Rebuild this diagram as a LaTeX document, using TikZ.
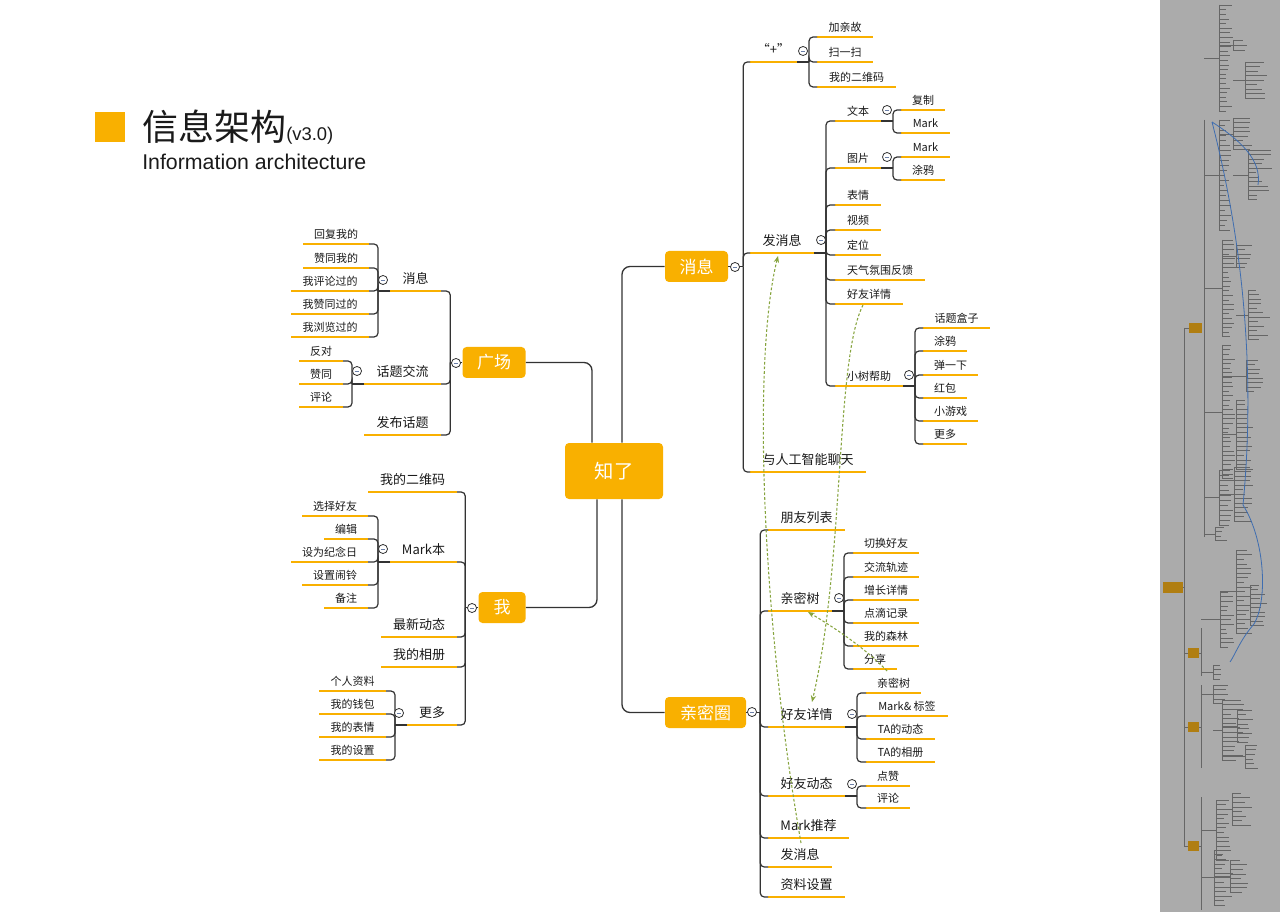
\documentclass[tikz,border=0pt]{standalone}
\usepackage{fontspec}
\setmainfont{Noto Sans CJK SC}
\newfontfamily\latinf{Liberation Sans}
\usetikzlibrary{calc,arrows.meta}
\definecolor{org}{HTML}{F9B000}
\definecolor{ink}{HTML}{1A1A1A}
\definecolor{lnc}{HTML}{333333}
\definecolor{grn}{HTML}{86A43E}
\definecolor{mmbg}{HTML}{ABABAB}
\definecolor{mmln}{HTML}{666666}
\definecolor{mmbox}{HTML}{B07E12}
\definecolor{mmblu}{HTML}{3E6DB0}
\definecolor{minus}{HTML}{6B7FA8}
\tikzset{
  x=0.75pt, y=-0.75pt,
  uline/.style={draw=org, line width=1.6pt},
  link/.style={draw=lnc, line width=0.9pt, rounded corners=3pt},
  rootlink/.style={draw=lnc, line width=1pt, rounded corners=6pt},
  t2/.style={inner sep=0pt, text=ink, yshift=9pt, font=\fontsize{9.75}{10}\selectfont, text height=0.86em, text depth=0.14em},
  t3/.style={inner sep=0pt, text=ink, yshift=7.9pt, font=\fontsize{8.25}{9}\selectfont, text height=0.86em, text depth=0.14em},
  topbox/.style={fill=org, rounded corners=3pt, text=white, inner sep=0pt, minimum height=23.25pt, font=\fontsize{12.75}{13}\selectfont},
  colb/.style={circle, draw=lnc, line width=0.6pt, fill=white, minimum size=6.8pt, inner sep=0pt,
     path picture={\draw[minus, line width=0.6pt] ([xshift=-1.6pt]path picture bounding box.center) -- ([xshift=1.6pt]path picture bounding box.center);}},
  garr/.style={draw=grn, line width=0.8pt, dash pattern=on 2pt off 1.5pt, -{Stealth[length=5pt,width=4pt]}},
  mmline/.style={draw=mmln, line width=0.3pt},
  mmb/.style={draw=mmblu, line width=0.6pt}
}
\newcommand\lf[6]{%
  \coordinate (#1-l) at (#2,#4);
  \coordinate (#1-r) at (#3,#4);
  \draw[uline] (#1-l) -- (#1-r);
  \node[#5] (#1) at ({(#2+#3)/2},#4) {#6};}
\newcommand\rbr[2]{\draw[link] (#1-r) -- ++(12,0) coordinate (#1-j);
  \foreach \ch in {#2}{\draw[link] (#1-j) |- (\ch-l);}}
\newcommand\lbr[2]{\draw[link] (#1-l) -- ++(-12,0) coordinate (#1-j);
  \foreach \ch in {#2}{\draw[link] (#1-j) |- (\ch-r);}}
\newcommand\rbx[3]{\draw[link] (#1.east) -- ++(#2,0) coordinate (#1-j);
  \foreach \ch in {#3}{\draw[link] (#1-j) |- (\ch-l);}}
\newcommand\lbx[3]{\draw[link] (#1.west) -- ++(-#2,0) coordinate (#1-j);
  \foreach \ch in {#3}{\draw[link] (#1-j) |- (\ch-r);}}
\newcommand\mmg[7]{%
  \pgfmathsetmacro\mmyb{#3+(#5-1)*#4}%
  \pgfmathsetmacro\mmym{(#3+\mmyb)/2}%
  \draw[mmline] (#2,#3) -- (#2,\mmyb);
  \draw[mmline] (#1,\mmym) -- (#2,\mmym);
  \foreach \i in {1,...,#5}{\pgfmathsetmacro\yy{#3+(\i-1)*#4}\pgfmathsetmacro\ll{#6+rnd*(#7-#6)}\draw[mmline] (#2,\yy) -- ++(\ll,0);}}
\begin{document}
\begin{tikzpicture}
\useasboundingbox (0,0) rectangle (1280,912);
\fill[white] (0,0) rectangle (1280,912);

% ---------- title ----------
\node[fill=org, minimum size=22.5pt, inner sep=0pt] (sq) at (110,127) {};
\node[anchor=base west, inner sep=0pt, text=ink] (title) at (142,140.5)
  {{\fontsize{27}{28}\selectfont 信息架构}{\latinf\fontsize{13.8}{14}\selectfont (v3.0)}};
\node[anchor=base west, inner sep=0pt, text=ink, font=\latinf\fontsize{16}{17}\selectfont] (subtitle) at (142,170) {Information architecture};

% ---------- main boxes ----------
\node[topbox, minimum width=73.5pt, minimum height=42pt, font=\fontsize{14.5}{15}\selectfont] (root) at (614,471) {知了};
\node[topbox, minimum width=47.25pt] (msg) at (696.5,266.5) {消息};
\node[topbox, minimum width=47.25pt] (gc) at (494,362.5) {广场};
\node[topbox, minimum width=35.25pt] (me) at (502,607.5) {我};
\node[topbox, minimum width=60.75pt] (qm) at (705.5,712.5) {亲密圈};

\draw[rootlink] ([xshift=6pt]root.north) |- (msg.west);
\draw[rootlink] ([xshift=-16.5pt]root.north) |- (gc.east);
\draw[rootlink] ([xshift=-12.75pt]root.south) |- (me.east);
\draw[rootlink] ([xshift=6pt]root.south) |- (qm.west);

% ---------- 消息 branch ----------
\lf{plus}{750}{797}{62}{t2}{“+”}
\lf{fx}{750}{814}{253}{t2}{发消息}
\lf{ai}{750}{866}{472}{t2}{与人工智能聊天}
\lf{jqg}{817}{873}{37}{t3}{加亲故}
\lf{sys}{817}{873}{62}{t3}{扫一扫}
\lf{ewm}{817}{896}{87}{t3}{我的二维码}
\lf{wb}{835}{881}{121}{t3}{文本}
\lf{tp}{835}{881}{168}{t3}{图片}
\lf{bq}{835}{881}{205}{t3}{表情}
\lf{sp}{835}{881}{230}{t3}{视频}
\lf{dw}{835}{881}{255}{t3}{定位}
\lf{tq}{835}{925}{280}{t3}{天气氛围反馈}
\lf{hx}{835}{903}{304}{t3}{好友详情}
\lf{xs}{835}{903}{386}{t3}{小树帮助}
\lf{fz}{901}{945}{110}{t3}{复制}
\lf{mka}{901}{950}{133}{t3}{Mark}
\lf{mkb}{901}{950}{157}{t3}{Mark}
\lf{tya}{901}{945}{180}{t3}{涂鸦}
\lf{htz}{923}{990}{328}{t3}{话题盒子}
\lf{tyb}{923}{967}{351}{t3}{涂鸦}
\lf{tyx}{923}{978}{375}{t3}{弹一下}
\lf{hb}{923}{967}{398}{t3}{红包}
\lf{xyx}{923}{978}{421}{t3}{小游戏}
\lf{gda}{923}{967}{444}{t3}{更多}

\rbx{msg}{15}{plus,fx,ai}
\rbr{plus}{jqg,sys,ewm}
\rbr{fx}{wb,tp,bq,sp,dw,tq,hx,xs}
\rbr{wb}{fz,mka}
\rbr{tp}{mkb,tya}
\rbr{xs}{htz,tyb,tyx,hb,xyx,gda}

% ---------- 亲密圈 branch ----------
\lf{pylb}{768}{845}{530}{t2}{朋友列表}
\lf{qms}{768}{832}{611}{t2}{亲密树}
\lf{hyxq}{768}{845}{727}{t2}{好友详情}
\lf{hydt}{768}{845}{796}{t2}{好友动态}
\lf{mktj}{768}{849}{838}{t2}{Mark推荐}
\lf{qfx}{768}{832}{867}{t2}{发消息}
\lf{zlsz}{768}{845}{897}{t2}{资料设置}
\lf{qhhy}{853}{919}{553}{t3}{切换好友}
\lf{jlgj}{853}{919}{577}{t3}{交流轨迹}
\lf{zzxq}{853}{919}{600}{t3}{增长详情}
\lf{ddjl}{853}{919}{623}{t3}{点滴记录}
\lf{wdsl}{853}{919}{646}{t3}{我的森林}
\lf{fxb}{853}{897}{669}{t3}{分享}
\lf{qmsb}{866}{921}{693}{t3}{亲密树}
\lf{mkbq}{866}{948}{716}{t3}{Mark\& 标签}
\lf{tadt}{866}{935}{739}{t3}{TA的动态}
\lf{taxc}{866}{935}{762}{t3}{TA的相册}
\lf{dz}{866}{910}{786}{t3}{点赞}
\lf{plb}{866}{910}{808}{t3}{评论}

\rbx{qm}{14}{pylb,qms,hyxq,hydt,mktj,qfx,zlsz}
\rbr{qms}{qhhy,jlgj,zzxq,ddjl,wdsl,fxb}
\rbr{hyxq}{qmsb,mkbq,tadt,taxc}
\rbr{hydt}{dz,plb}

% ---------- 广场 branch ----------
\lf{gxx}{390}{441}{291}{t2}{消息}
\lf{htjl}{364}{441}{384}{t2}{话题交流}
\lf{fbht}{364}{441}{435}{t2}{发布话题}
\lf{hfwd}{303}{369}{244}{t3}{回复我的}
\lf{zywd}{303}{369}{268}{t3}{赞同我的}
\lf{wplgd}{291}{369}{291}{t3}{我评论过的}
\lf{wzygd}{291}{369}{314}{t3}{我赞同过的}
\lf{wllgd}{291}{369}{337}{t3}{我浏览过的}
\lf{fd}{299}{343}{361}{t3}{反对}
\lf{zt}{299}{343}{384}{t3}{赞同}
\lf{pla}{299}{343}{407}{t3}{评论}

\lbx{gc}{12}{gxx,htjl,fbht}
\lbr{gxx}{hfwd,zywd,wplgd,wzygd,wllgd}
\lbr{htjl}{fd,zt,pla}

% ---------- 我 branch ----------
\lf{mewm}{368}{457}{492}{t2}{我的二维码}
\lf{mkbn}{390}{457}{562}{t2}{Mark本}
\lf{zxdt}{381}{457}{637}{t2}{最新动态}
\lf{wdxc}{381}{457}{667}{t2}{我的相册}
\lf{gdb}{407}{457}{725}{t2}{更多}
\lf{xzhy}{302}{368}{516}{t3}{选择好友}
\lf{bj}{324}{368}{539}{t3}{编辑}
\lf{swjn}{291}{368}{562}{t3}{设为纪念日}
\lf{sznl}{302}{368}{585}{t3}{设置闹铃}
\lf{bz}{324}{368}{608}{t3}{备注}
\lf{grzl}{319}{386}{691}{t3}{个人资料}
\lf{wdqb}{319}{386}{714}{t3}{我的钱包}
\lf{wdbq}{319}{386}{737}{t3}{我的表情}
\lf{wdsz}{319}{386}{760}{t3}{我的设置}

\lbx{me}{13}{mewm,mkbn,zxdt,wdxc,gdb}
\lbr{mkbn}{xzhy,bj,swjn,sznl,bz}
\lbr{gdb}{grzl,wdqb,wdbq,wdsz}

% ---------- collapse circles ----------
\node[colb] (c1) at (735,267) {};
\node[colb] (c2) at (456,363) {};
\node[colb] (c3) at (472,608) {};
\node[colb] (c4) at (752,712) {};
\node[colb] (c5) at (803,51) {};
\node[colb] (c6) at (821,240) {};
\node[colb] (c7) at (887,110) {};
\node[colb] (c8) at (887,157) {};
\node[colb] (c9) at (909,375) {};
\node[colb] (c10) at (383,280) {};
\node[colb] (c11) at (357,371) {};
\node[colb] (c12) at (383,549) {};
\node[colb] (c13) at (399,713) {};
\node[colb] (c14) at (839,598) {};
\node[colb] (c15) at (852,714) {};
\node[colb] (c16) at (852,784) {};

% ---------- cross links ----------
\coordinate (g1s) at (801,843); \coordinate (g1e) at (778,256);
\coordinate (g2s) at (863,305); \coordinate (g2e) at (812,702);
\coordinate (g3s) at (887,671); \coordinate (g3e) at (808,612);
\draw[garr] (g1s) .. controls (762,620) and (752,360) .. (g1e);
\draw[garr] (g2s) .. controls (835,360) and (845,560) .. (g2e);
\draw[garr] (g3s) .. controls (865,648) and (835,628) .. (g3e);

% ---------- minimap ----------
\begin{scope}
\clip (1160,0) rectangle (1280,912);
\fill[mmbg] (1160,0) rectangle (1280,912);
\pgfmathsetseed{7}
\draw[mmline] (1184,328) -- (1184,846);
\draw[mmline] (1183,587) -- (1184,587);
\foreach \yb in {328,653,727,846}{\draw[mmline] (1184,\yb) -- (1201,\yb);}
\draw[mmline] (1204,120) -- (1204,537);
\draw[mmline] (1201,628) -- (1201,676);
\draw[mmline] (1201,685) -- (1201,768);
\draw[mmline] (1201,797) -- (1201,910);
\mmg{1204}{1219}{5}{4.6}{24}{6}{14}
\mmg{1219}{1233}{40}{5}{3}{8}{16}
\mmg{1233}{1245}{62}{4.5}{9}{8}{22}
\mmg{1204}{1219}{120}{5}{23}{5}{12}
\mmg{1219}{1233}{118}{4.5}{8}{10}{20}
\mmg{1233}{1248}{150}{4.5}{12}{8}{25}
\mmg{1204}{1222}{240}{4.6}{22}{6}{14}
\mmg{1222}{1236}{245}{4.5}{6}{8}{18}
\mmg{1236}{1248}{290}{4.5}{12}{8}{22}
\mmg{1204}{1222}{345}{4.6}{30}{6}{14}
\mmg{1222}{1246}{360}{4.5}{8}{8}{20}
\mmg{1222}{1236}{400}{4.6}{16}{8}{18}
\mmg{1204}{1219}{470}{5}{12}{8}{16}
\mmg{1219}{1234}{467}{4.5}{13}{8}{20}
\mmg{1204}{1215}{527}{4.5}{4}{6}{14}
\mmg{1201}{1220}{592}{4.6}{13}{6}{14}
\mmg{1220}{1236}{550}{4.6}{19}{6}{16}
\mmg{1236}{1250}{585}{4.5}{10}{8}{18}
\mmg{1201}{1213}{665}{4.6}{4}{6}{12}
\mmg{1201}{1213}{685}{4.6}{5}{8}{18}
\mmg{1213}{1222}{700}{4.6}{14}{8}{22}
\mmg{1222}{1237}{710}{4.6}{8}{8}{18}
\mmg{1222}{1245}{745}{4.6}{6}{8}{14}
\mmg{1201}{1216}{800}{4.6}{14}{6}{14}
\mmg{1216}{1232}{793}{4.6}{8}{8}{20}
\mmg{1201}{1214}{850}{4.6}{13}{8}{20}
\mmg{1214}{1230}{860}{4.6}{8}{8}{18}
\node[fill=mmbox, minimum width=15pt, minimum height=8.25pt, inner sep=0pt] (mmroot) at (1173,587.5) {};
\node[fill=mmbox, minimum width=9.75pt, minimum height=7.5pt, inner sep=0pt] (mm1) at (1195.5,328) {};
\node[fill=mmbox, minimum width=8.25pt, minimum height=7.5pt, inner sep=0pt] (mm2) at (1193.5,653) {};
\node[fill=mmbox, minimum width=8.25pt, minimum height=7.5pt, inner sep=0pt] (mm3) at (1193.5,727) {};
\node[fill=mmbox, minimum width=8.25pt, minimum height=7.5pt, inner sep=0pt] (mm4) at (1193.5,846) {};
\draw[mmb] (1212,122) .. controls (1240,140) and (1262,160) .. (1258,185);
\draw[mmb] (1212,122) .. controls (1245,250) and (1255,380) .. (1243,505);
\draw[mmb] (1243,505) .. controls (1265,540) and (1268,600) .. (1254,624);
\draw[mmb] (1254,624) .. controls (1240,640) and (1235,655) .. (1230,662);
\end{scope}
\end{tikzpicture}
\end{document}
